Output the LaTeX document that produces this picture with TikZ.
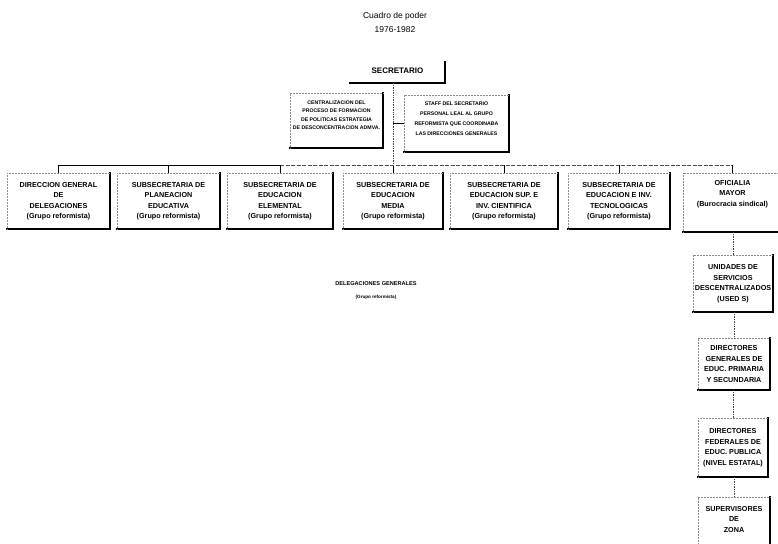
\documentclass[tikz,border=0pt]{standalone}
\usepackage{fontspec}
\setmainfont{Liberation Sans}
\begin{document}
\begin{tikzpicture}[x=1pt,y=-1pt,
  orgbox/.style n args={2}{rectangle, minimum width=#1, minimum height=#2, inner sep=0pt},
  heavy/.style={line width=1.7pt, line cap=rect},
  faint/.style={black!45, line width=0.5pt, densely dotted},
  lbl/.style={align=center, inner sep=0pt, font=\bfseries\fontsize{7.2}{10.5}\selectfont},
  small/.style={align=center, inner sep=0pt, font=\bfseries\fontsize{5.2}{8.5}\selectfont},
  titlefont/.style={align=center, inner sep=0pt, font=\fontsize{8.5}{14}\selectfont},
  busline/.style={line width=0.8pt},
  busdash/.style={line width=0.7pt, black!70, dash pattern=on 4pt off 1.5pt},
  stub/.style={line width=0.8pt},
  link/.style={line width=0.7pt, black!75, densely dotted}]
\useasboundingbox (0,0) rectangle (778,543);

% heading
\node[titlefont] (ttl) at (395,22) {Cuadro de poder\\1976-1982};

% top level
\node[orgbox={95}{25}, font=\bfseries\fontsize{8}{10}\selectfont] (sec) at (397.5,70.5) {SECRETARIO};

\node[orgbox={93}{55}] (cen) at (336.5,120.5) {};
\node[small] (centxt) at (336.5,115) {CENTRALIZACION DEL\\PROCESO DE FORMACION\\DE POLITICAS ESTRATEGIA\\DE DESCONCENTRACION ADMVA.};

\node[orgbox={105}{57}] (staff) at (456.5,123.5) {};
\node[small, font=\bfseries\fontsize{5.2}{10}\selectfont] (stafftxt) at (456.5,119) {STAFF DEL SECRETARIO\\PERSONAL LEAL AL GRUPO\\REFORMISTA QUE COORDINABA\\LAS DIRECCIONES GENERALES};

% second level
\node[orgbox={103}{56}, lbl] (c1) at (58.5,201) {DIRECCION GENERAL\\DE\\DELEGACIONES\\(Grupo reformista)};
\node[orgbox={103}{56}, lbl] (c2) at (168.5,201) {SUBSECRETARIA DE\\PLANEACION\\EDUCATIVA\\(Grupo reformista)};
\node[orgbox={106}{56}, lbl] (c3) at (280,201) {SUBSECRETARIA DE\\EDUCACION\\ELEMENTAL\\(Grupo reformista)};
\node[orgbox={100}{56}, lbl] (c4) at (393,201) {SUBSECRETARIA DE\\EDUCACION\\MEDIA\\(Grupo reformista)};
\node[orgbox={108}{56}, lbl] (c5) at (504,201) {SUBSECRETARIA DE\\EDUCACION SUP. E\\INV. CIENTIFICA\\(Grupo reformista)};
\node[orgbox={102}{56}, lbl] (c6) at (619,201) {SUBSECRETARIA DE\\EDUCACION E INV.\\TECNOLOGICAS\\(Grupo reformista)};
\node[orgbox={98}{59}] (c7) at (732.5,202.5) {};
\node[lbl] (c7txt) at (732.5,194) {OFICIALIA\\MAYOR\\(Burocracia sindical)};

% free label
\node[align=center, inner sep=0pt] (deleg) at (376,290.5)
  {{\bfseries\fontsize{5.6}{8}\selectfont DELEGACIONES GENERALES}\\[1pt]{\bfseries\fontsize{4.6}{6}\selectfont (Grupo reformista)}};

% right column
\node[orgbox={80}{57}, lbl] (u1) at (733,283.5) {UNIDADES DE\\SERVICIOS\\DESCENTRALIZADOS\\(USED S)};
\node[orgbox={72}{52}, lbl] (u2) at (734,364) {DIRECTORES\\GENERALES DE\\EDUC. PRIMARIA\\Y SECUNDARIA};
\node[orgbox={70}{59}, lbl] (u3) at (733,447.5) {DIRECTORES\\FEDERALES DE\\EDUC. PUBLICA\\(NIVEL ESTATAL)};
\node[orgbox={72}{64}] (u4) at (734,529) {};
\node[lbl] (u4txt) at (734,519.5) {SUPERVISORES\\DE\\ZONA};

% box frames: heavy right and bottom edges, faint top and left edges
\foreach \n in {cen,staff,c1,c2,c3,c4,c5,c6,c7,u1,u2,u3,u4}{
  \draw[heavy] (\n.north east) -- (\n.south east) -- (\n.south west);
  \draw[faint] (\n.south west) -- (\n.north west) -- (\n.north east);
}
\draw[heavy] ([yshift=-4pt]sec.north east) -- (sec.south east) -- (sec.south west);

% connectors
\coordinate (bus) at (0,165);
\draw[busline] (c1.north |- bus) -- (c3.north |- bus);
\draw[busdash] (c3.north |- bus) -- (c7.north |- bus);
\foreach \n in {c1,c2,c3,c4,c5,c6,c7}{
  \draw[stub] (\n.north |- bus) -- (\n.north);
}
\draw[link] (sec.south -| c4.north) -- (c4.north |- bus);
\draw[line width=0.6pt] (staff.west -| c4.north) -- (staff.west);

\draw[link] (u1.north |- c7.south) -- (u1.north);
\draw[link] (u2.north |- u1.south) -- (u2.north);
\draw[link] (u3.north |- u2.south) -- (u3.north);
\draw[link] (u4.north |- u3.south) -- (u4.north);
\end{tikzpicture}
\end{document}
